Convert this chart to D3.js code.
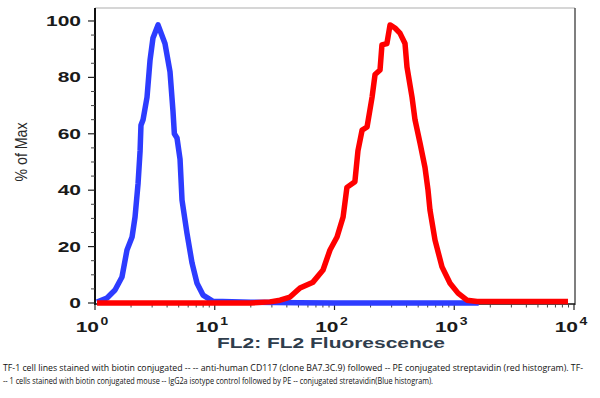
<!DOCTYPE html>
<html>
<head>
<meta charset="utf-8">
<script src="https://cdn.jsdelivr.net/npm/d3@7"></script>
<style>
  body { margin: 0; background: #fff; }
  svg { display: block; }
</style>
</head>
<body>
<svg class="chart" width="600" height="398"></svg>
<script>
// FL2 fluorescence (log scale) vs % of max
var blueX = [1.04, 1.26, 1.47, 1.68, 1.85, 2.04, 2.16, 2.29, 2.38, 2.42, 2.52, 2.72, 2.88, 3.05, 3.36, 3.84, 4.23, 4.48, 4.6, 4.84, 5.13, 5.33, 5.86, 6.46, 7.11, 7.98, 9.67, 20, 50, 100, 1600];
var blueY = [0.3, 1.8, 4.6, 9.2, 18.8, 23.4, 30.5, 42.5, 54, 63, 65, 73, 86, 94, 98.6, 92, 82, 68, 60, 58.5, 51, 36.5, 24.8, 14.2, 7, 2.8, 0.6, 0.3, 0.1, 0, 0];

var redX = [1.04, 20, 28.9, 35.1, 42.5, 51.5, 66.1, 80.2, 91.7, 105, 118, 127, 148, 157, 170, 187, 206, 218, 240, 249, 274, 291, 320, 352, 388, 403, 444, 470, 518, 570, 604, 627, 691, 790, 922, 1075, 1277, 1549, 8913];
var redY = [0, 0, 0.4, 1, 2.1, 5.3, 7.4, 11.7, 18.8, 23.4, 30.5, 41, 43, 54, 61.3, 62.4, 73, 81, 82.6, 91.5, 92, 98.6, 97.5, 95.7, 92, 83.7, 73, 65, 56.7, 48, 40, 33, 22.3, 12.8, 7, 3.5, 1, 0.5, 0.5];

var yTicks = [0, 20, 40, 60, 80, 100];
var xTicks = [1, 10, 100, 1000, 10000];
var xTickExp = ["0", "1", "2", "3", "4"];

var caption = [
  "TF-1 cell lines stained with biotin conjugated --  -- anti-human CD117 (clone BA7.3C.9) followed -- PE conjugated streptavidin (red histogram). TF-",
  "-- 1 cells stained with biotin conjugated mouse -- IgG2a isotype control followed by PE -- conjugated stretavidin(Blue histogram)."
];

var svg = d3.select(".chart");

var x = d3.scaleLog().domain([1, 10000]).range([95, 574]),
    y = d3.scaleLinear().domain([0, 104.6]).range([303, 8]);

var line = d3.line()
    .x(function(d) { return x(d[0]); })
    .y(function(d) { return y(d[1]); });

var tickFont = "bold 14px 'Liberation Sans', Arial, sans-serif";

// frame
svg.append("line").attr("x1", 95).attr("x2", 575).attr("y1", 8).attr("y2", 8)
    .attr("stroke", "#c8c8c8").attr("stroke-width", 1.5);
svg.append("line").attr("x1", 575).attr("x2", 575).attr("y1", 8).attr("y2", 305)
    .attr("stroke", "#555").attr("stroke-width", 1.5);

// y axis
var yMinor = d3.range(5, 101, 5).filter(function(v) { return v % 20 != 0; });
var gy = svg.append("g");
gy.append("line").attr("x1", 95).attr("x2", 95).attr("y1", 8).attr("y2", 305)
    .attr("stroke", "#111").attr("stroke-width", 2);
gy.selectAll(".ymaj").data(yTicks).enter().append("line")
    .attr("x1", 88).attr("x2", 95)
    .attr("y1", function(d) { return y(d); }).attr("y2", function(d) { return y(d); })
    .attr("stroke", "#222").attr("stroke-width", 1.2);
gy.selectAll(".ymin").data(yMinor).enter().append("line")
    .attr("x1", 91).attr("x2", 95)
    .attr("y1", function(d) { return y(d); }).attr("y2", function(d) { return y(d); })
    .attr("stroke", "#444").attr("stroke-width", 1);
gy.selectAll(".ylab").data(yTicks).enter().append("text")
    .attr("transform", function(d) { return "translate(81," + y(d) + ") scale(1.5,1)"; })
    .attr("dy", "0.36em")
    .attr("text-anchor", "end")
    .style("font", tickFont).attr("fill", "#1a1a1a")
    .text(function(d) { return d; });
svg.append("text")
    .attr("transform", "translate(27,152) rotate(-90)")
    .attr("text-anchor", "middle")
    .attr("textLength", 59).attr("lengthAdjust", "spacingAndGlyphs")
    .style("font", "17px 'Liberation Sans Narrow', 'Liberation Sans', Arial, sans-serif")
    .attr("fill", "#2a2a2a")
    .text("% of Max");

// x axis
var xMinor = [];
[1, 10, 100, 1000].forEach(function(b) { for (var k = 2; k < 10; k++) xMinor.push(b * k); });
var gx = svg.append("g");
gx.append("line").attr("x1", 95).attr("x2", 575).attr("y1", 304).attr("y2", 304)
    .attr("stroke", "#111").attr("stroke-width", 1.5);
gx.selectAll(".xmaj").data(xTicks).enter().append("line")
    .attr("x1", function(d) { return x(d); }).attr("x2", function(d) { return x(d); })
    .attr("y1", 304).attr("y2", 310)
    .attr("stroke", "#222").attr("stroke-width", 1.2);
gx.selectAll(".xmin").data(xMinor).enter().append("line")
    .attr("x1", function(d) { return x(d); }).attr("x2", function(d) { return x(d); })
    .attr("y1", 304).attr("y2", 307.5)
    .attr("stroke", "#444").attr("stroke-width", 1);
var xl = gx.selectAll(".xlab").data(xTicks).enter().append("g")
    .attr("transform", function(d) { return "translate(" + (x(d) + 4) + ",332)"; });
xl.append("text")
    .attr("transform", "scale(1.5,1)")
    .attr("text-anchor", "end")
    .style("font", tickFont).attr("fill", "#1a1a1a")
    .text("10");
xl.append("text")
    .attr("x", 1).attr("y", -7)
    .attr("transform", "scale(1.4,1)")
    .style("font", "bold 10px 'Liberation Sans', Arial, sans-serif").attr("fill", "#1a1a1a")
    .text(function(d, i) { return xTickExp[i]; });
svg.append("text")
    .attr("x", 331).attr("y", 348).attr("text-anchor", "middle")
    .attr("textLength", 228).attr("lengthAdjust", "spacingAndGlyphs")
    .style("font", "bold 14px 'Liberation Sans', Arial, sans-serif")
    .attr("fill", "#2f3d4c")
    .text("FL2: FL2 Fluorescence");

// histograms
svg.append("path")
    .datum(d3.zip(blueX, blueY))
    .attr("d", line)
    .attr("fill", "none").attr("stroke", "#2d3cff").attr("stroke-width", 5.5)
    .attr("stroke-linejoin", "round");
svg.append("path")
    .datum(d3.zip(redX, redY))
    .attr("d", line)
    .attr("fill", "none").attr("stroke", "#ff0000").attr("stroke-width", 5.5)
    .attr("stroke-linejoin", "round");

// caption
svg.selectAll(".cap").data(caption).enter().append("text")
    .attr("x", 3).attr("y", function(d, i) { return 371 + i * 13; })
    .attr("textLength", function(d, i) { return i == 0 ? 580 : 430; })
    .attr("lengthAdjust", "spacingAndGlyphs")
    .style("font", "8.5px 'Open Sans', 'Liberation Sans', sans-serif")
    .attr("fill", "#111")
    .text(function(d) { return d; });
</script>
</body>
</html>
